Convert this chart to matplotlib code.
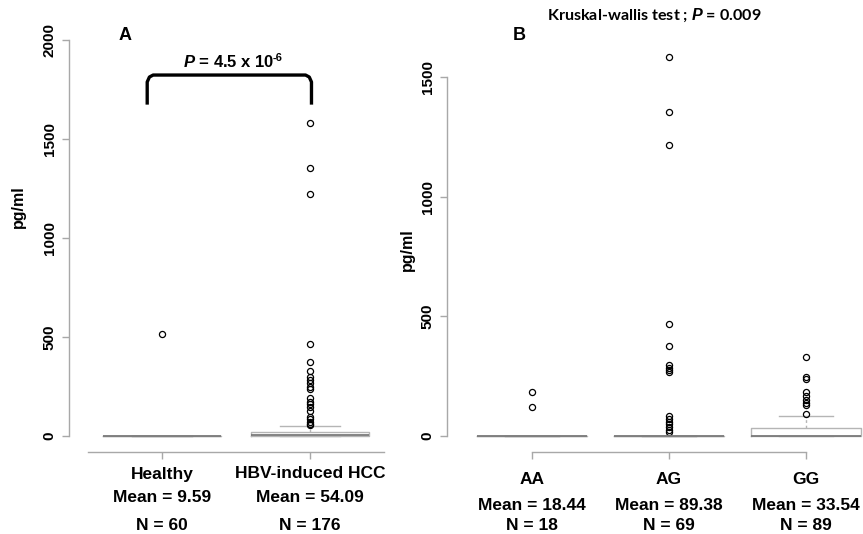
"""
Serum level boxplots: (A) healthy vs HBV-induced HCC, (B) by genotype
"""
import numpy as np
import matplotlib
matplotlib.use('Agg')
import matplotlib.pyplot as plt
from matplotlib.transforms import blended_transform_factory

plt.rcParams['font.family'] = ['Liberation Sans', 'DejaVu Sans']
plt.rcParams['font.weight'] = 'bold'
plt.rcParams['mathtext.fontset'] = 'custom'
plt.rcParams['mathtext.rm'] = 'Liberation Sans:bold'
plt.rcParams['mathtext.it'] = 'Liberation Sans:italic:bold'
plt.rcParams['mathtext.bf'] = 'Liberation Sans:bold'

# ---- Panel A data (pg/ml) ----
groups_a = ['Healthy', 'HBV-induced HCC']
means_a = ['9.59', '54.09']
n_a = [60, 176]
q1_a = [0, 0]
med_a = [0, 3]
q3_a = [0, 22]
whislo_a = [0, 0]
whishi_a = [0, 48]
fliers_a = [
    [513],
    [1580, 1355, 1220, 465, 375, 328, 296, 283, 266, 249, 236, 190, 173,
     160, 145, 128, 97, 86, 72, 61, 54],
]
yticks_a = [0, 500, 1000, 1500, 2000]

# ---- Panel B data (pg/ml) ----
groups_b = ['AA', 'AG', 'GG']
means_b = ['18.44', '89.38', '33.54']
n_b = [18, 69, 89]
q1_b = [0, 0, 0]
med_b = [0, 0, 0]
q3_b = [0, 0, 32]
whislo_b = [0, 0, 0]
whishi_b = [0, 0, 83]
fliers_b = [
    [185, 122],
    [1582, 1354, 1216, 468, 377, 297, 285, 276, 266, 84, 71, 60, 49, 36, 25, 15],
    [329, 248, 237, 185, 167, 150, 139, 129, 92],
]
yticks_b = [0, 500, 1000, 1500]

W, H = 863, 534
AXIS_GRAY = '#a8a8a8'


def make_stats(q1, med, q3, lo, hi, fl):
    return [dict(q1=a, med=b, q3=c, whislo=d, whishi=e, fliers=np.array(f))
            for a, b, c, d, e, f in zip(q1, med, q3, lo, hi, fl)]


def draw_box(ax, stats):
    pos = np.arange(1, len(stats) + 1)
    ax.bxp(stats, positions=pos, widths=0.8, capwidths=0.4, showfliers=True,
           boxprops=dict(color='#b5b5b5', linewidth=1.0),
           whiskerprops=dict(color='#b5b5b5', linewidth=1.0, linestyle=(0, (2, 2))),
           capprops=dict(color='#b5b5b5', linewidth=1.0),
           medianprops=dict(color='#7a7a7a', linewidth=1.3),
           flierprops=dict(marker='o', markersize=4.4, markerfacecolor='none',
                           markeredgecolor='black', markeredgewidth=0.9))


def style_axes(ax, yticks, nx):
    for s in ['top', 'right']:
        ax.spines[s].set_visible(False)
    for s in ['left', 'bottom']:
        ax.spines[s].set_color(AXIS_GRAY)
        ax.spines[s].set_linewidth(1.0)
    ax.spines['left'].set_bounds(yticks[0], yticks[-1])
    ax.set_yticks(yticks)
    ax.set_xticks(np.arange(1, nx + 1))
    ax.set_xticklabels([''] * nx)
    ax.tick_params(axis='both', color=AXIS_GRAY, length=5, width=1.0)
    ax.tick_params(axis='y', labelsize=11, pad=4)
    for lab in ax.get_yticklabels():
        lab.set_rotation(90)
        lab.set_va('center')
        lab.set_fontweight('bold')
    ax.patch.set_visible(False)


def px_x(p):
    return p / W


def px_y(p):
    return 1 - p / H


fig = plt.figure(figsize=(W / 100, H / 100), dpi=100)

# ---- Panel A ----
axA = fig.add_axes([px_x(69), px_y(452), (403 - 69) / W, (452 - 40) / H])
draw_box(axA, make_stats(q1_a, med_a, q3_a, whislo_a, whishi_a, fliers_a))
axA.set_xlim(1 - 93 / 148, 1 + 241 / 148)
axA.set_ylim(-80.8, 2000)
style_axes(axA, yticks_a, len(groups_a))
axA.spines['bottom'].set_bounds(0.5, 2.5)

trA = blended_transform_factory(axA.transData, fig.transFigure)
for i, g in enumerate(groups_a):
    x = i + 1
    axA.text(x, px_y(474), g, transform=trA, ha='center', va='center', fontsize=12.5)
    axA.text(x, px_y(498), f'Mean = {means_a[i]}', transform=trA, ha='center',
             va='center', fontsize=12.5)
    axA.text(x, px_y(525), f'N = {n_a[i]}', transform=trA, ha='center',
             va='center', fontsize=12.5)

# significance bracket
bx0, bx1, by0, by1 = 0.9, 2.01, 1682, 1823
axA.plot([bx0, bx0, bx0 + 0.015, bx0 + 0.04, bx1 - 0.04, bx1 - 0.015, bx1, bx1],
         [by0, by1 - 35, by1 - 10, by1, by1, by1 - 10, by1 - 35, by0],
         color='black', linewidth=2.4, solid_joinstyle='round', clip_on=False)
ptxt = fig.text(px_x(229), px_y(62), r'$P$ = 4.5 x 10', ha='center', va='center',
                fontsize=12)
axA.annotate('-6', xy=(1, 1), xycoords=ptxt, xytext=(-1.8, 0.5), textcoords='offset points',
             ha='left', va='top', fontsize=8)
fig.text(px_x(125), px_y(35), 'A', ha='center', va='center', fontsize=13)
fig.text(px_x(18), px_y(207), 'pg/ml', rotation=90, ha='center', va='center',
         fontsize=11.5)

# ---- Panel B ----
axB = fig.add_axes([px_x(447), px_y(452), 444 / W, (452 - 40) / H])
draw_box(axB, make_stats(q1_b, med_b, q3_b, whislo_b, whishi_b, fliers_b))
axB.set_xlim(0.38, 3.62)
axB.set_ylim(-66.8, 1654.5)
style_axes(axB, yticks_b, len(groups_b))
axB.spines['bottom'].set_bounds(1, 3)

trB = blended_transform_factory(axB.transData, fig.transFigure)
for i, g in enumerate(groups_b):
    x = i + 1
    axB.text(x, px_y(479), g, transform=trB, ha='center', va='center', fontsize=12.5)
    axB.text(x, px_y(505), f'Mean = {means_b[i]}', transform=trB, ha='center',
             va='center', fontsize=12.5)
    axB.text(x, px_y(525), f'N = {n_b[i]}', transform=trB, ha='center',
             va='center', fontsize=12.5)

fig.text(px_x(654), px_y(15), r'Kruskal-wallis test ; $P$ = 0.009', ha='center',
         va='center', fontsize=11.6, family=['Lato', 'DejaVu Sans'])
fig.text(px_x(519), px_y(35), 'B', ha='center', va='center', fontsize=13)
fig.text(px_x(407), px_y(250), 'pg/ml', rotation=90, ha='center', va='center',
         fontsize=11.5)

fig.savefig('out.png', dpi=100)
